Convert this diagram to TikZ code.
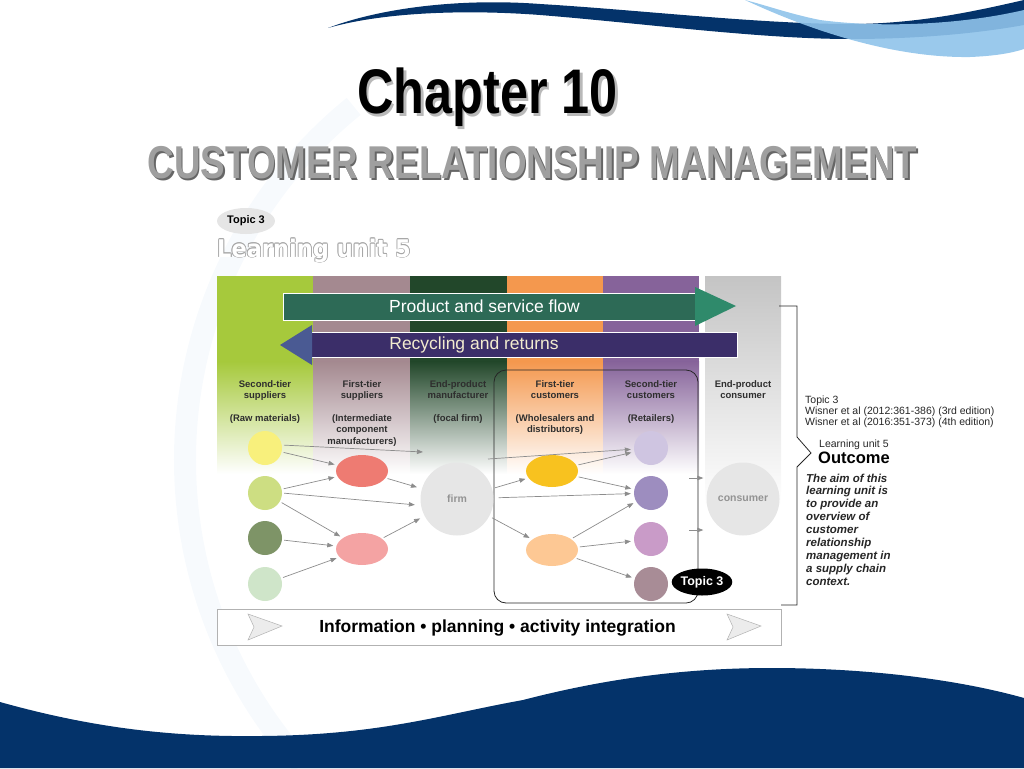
\documentclass[tikz,border=0pt]{standalone}
\usepackage{fontspec}
\setmainfont{Liberation Sans}
\newfontfamily\roundfont{DejaVu Sans}
\usetikzlibrary{arrows.meta,shapes.geometric,positioning}

\definecolor{navy}{HTML}{04336A}
\definecolor{skyblue}{HTML}{8FC3EA}
\definecolor{paleArc}{HTML}{F7FAFD}
\definecolor{limeTop}{HTML}{A6C93C}
\definecolor{mauveTop}{HTML}{A48990}
\definecolor{forestTop}{HTML}{22472A}
\definecolor{orangeTop}{HTML}{F4984E}
\definecolor{purpleTop}{HTML}{86639A}
\definecolor{greyTop}{HTML}{C4C4C4}
\definecolor{flowGreen}{HTML}{2D6A56}
\definecolor{flowHead}{HTML}{2F8A6B}
\definecolor{returnBlue}{HTML}{3B2E69}
\definecolor{returnHead}{HTML}{4A5A93}
\definecolor{returnText}{HTML}{F2EBCF}
\definecolor{linkGrey}{HTML}{8C8C8C}
\definecolor{hdrText}{HTML}{2E2E2E}
\definecolor{bubbleGrey}{HTML}{E6E6E6}
\definecolor{rawYellow}{HTML}{F8F07C}
\definecolor{rawLime}{HTML}{CDDE82}
\definecolor{rawOlive}{HTML}{7E9467}
\definecolor{rawMint}{HTML}{CFE5C9}
\definecolor{partRed}{HTML}{EE7B72}
\definecolor{partPink}{HTML}{F4A3A3}
\definecolor{saleGold}{HTML}{F8C21F}
\definecolor{salePeach}{HTML}{FDC894}
\definecolor{shopLilac}{HTML}{CFC5E1}
\definecolor{shopViolet}{HTML}{9D8DBF}
\definecolor{shopOrchid}{HTML}{C99BC8}
\definecolor{shopTaupe}{HTML}{A88C96}

\newcommand{\shadowtext}[3]{\makebox[0pt][l]{\hspace{#1}\raisebox{-#1}{\color{#2}#3}}#3}

\begin{document}
\begin{tikzpicture}[
x=1pt, y=-1pt,
>={Triangle[length=6pt,width=4.5pt]},
link/.style={->, draw=linkGrey, line width=0.7pt, shorten <=2pt, shorten >=3pt},
dot/.style={circle, minimum size=34pt, inner sep=0pt},
egg/.style={ellipse, minimum width=52pt, minimum height=32pt, inner sep=0pt},
bigdot/.style={circle, fill=bubbleGrey, minimum size=73pt, inner sep=0pt,
  text=gray!85, font=\fontsize{10.5}{12}\selectfont\bfseries},
hdr/.style={anchor=north, align=center, inner sep=0pt, text=hdrText,
  font=\fontsize{9.5}{11.5}\selectfont\bfseries},
lunit/.style={anchor=base west, inner sep=0pt, font=\roundfont\bfseries\fontsize{22.5}{27}\selectfont},
chev/.style={fill=gray!15, draw=gray!60, line width=0.5pt},
note/.style={anchor=base west, inner sep=0pt, text=black!85}
]
\useasboundingbox (0,0) rectangle (1024,768);

% slide background
\draw[paleArc, line width=22pt] (640,460) ++(231:455) arc[start angle=231, end angle=138, radius=455];
\fill[navy] (328,28) .. controls (380,8) and (460,-2) .. (540,4)
  .. controls (640,10) and (760,24) .. (850,24) .. controls (920,24) and (980,10) .. (1024,0)
  -- (1024,25) .. controls (980,33) and (920,39) .. (850,39)
  .. controls (760,39) and (640,23) .. (540,15) .. controls (460,9) and (380,13) .. (328,28) -- cycle;
\fill[skyblue, opacity=0.9] (745,0) .. controls (820,35) and (900,58) .. (970,57)
  .. controls (995,56) and (1012,53) .. (1024,49) -- (1024,10)
  .. controls (960,25) and (880,28) .. (820,20) .. controls (790,14) and (765,5) .. (745,0) -- cycle;
\fill[navy] (0,702) .. controls (100,730) and (180,737) .. (261,736)
  .. controls (380,735) and (440,715) .. (523,700) .. controls (600,680) and (680,668) .. (771,668)
  .. controls (870,668) and (960,680) .. (1024,698) -- (1024,768) -- (0,768) -- cycle;

% titles
\node[anchor=base, inner sep=0pt, font=\fontsize{63}{70}\selectfont\bfseries]
  (chapter) at (487.5,113) {\scalebox{0.8}[1]{\shadowtext{3pt}{gray!55}{Chapter 10}}};
\node[anchor=base, inner sep=0pt, text=gray!75, font=\fontsize{46}{52}\selectfont\bfseries]
  (crm) at (532.5,178) {\scalebox{0.8}[1]{\shadowtext{2pt}{black!60}{CUSTOMER RELATIONSHIP MANAGEMENT}}};

\node[ellipse, fill=gray!20, minimum width=58pt, minimum height=26pt, inner sep=0pt,
  font=\fontsize{11}{13}\selectfont\bfseries] (topicbadge) at (246,221) {Topic 3};
\foreach \a in {0,45,...,315}
  \node[lunit, text=gray!70, xshift={0.8*cos(\a)}, yshift={0.8*sin(\a)}] (luo\a) at (217,257)
    {\scalebox{1}[1.08]{Learning unit 5}};
\node[lunit, text=white] (lunitlabel) at (217,257) {\scalebox{1}[1.08]{Learning unit 5}};

% coloured columns
\foreach \xa/\xb/\c in {217/313/limeTop, 313/410/mauveTop, 410/507/forestTop,
    507/603/orangeTop, 603/699/purpleTop} {
  \fill[\c] (\xa,276) rectangle (\xb,362);
  \shade[top color=\c, bottom color=white] (\xa,361.5) rectangle (\xb,474);
}
\shade[top color=greyTop, bottom color=white] (705,276) rectangle (781,505);

% flow arrows
\fill[flowGreen, draw=white!85, line width=0.8pt] (283,293) rectangle (700,320);
\fill[flowHead] (695,287) -- (736,306) -- (695,326) -- cycle;
\node[text=white, font=\fontsize{17.5}{20}\selectfont] (flowlabel) at (484.5,306) {Product and service flow};
\fill[returnBlue, draw=white!85, line width=0.8pt] (310,332) rectangle (737,357);
\fill[returnHead] (312,325) -- (280,345) -- (312,365) -- cycle;
\node[text=returnText, font=\fontsize{17.5}{20}\selectfont] (returnlabel) at (474,345) {Recycling and returns};

% column headers
\node[hdr] (h1) at (265,380) {Second-tier\\suppliers};
\node[hdr] (h1b) at (265,414) {(Raw materials)};
\node[hdr] (h2) at (362,380) {First-tier\\suppliers};
\node[hdr] (h2b) at (362,414) {(Intermediate\\component\\manufacturers)};
\node[hdr] (h3) at (458,380) {End-product\\manufacturer};
\node[hdr] (h3b) at (458,414) {(focal firm)};
\node[hdr] (h4) at (555,380) {First-tier\\customers};
\node[hdr] (h4b) at (555,414) {(Wholesalers and\\distributors)};
\node[hdr] (h5) at (651,380) {Second-tier\\customers};
\node[hdr] (h5b) at (651,414) {(Retailers)};
\node[hdr] (h6) at (743,380) {End-product\\consumer};

% customer frame
\draw[black!85, line width=0.8pt, rounded corners=12pt] (494,370) rectangle (698,603);

% members
\node[dot, fill=rawYellow] (sup2a) at (265,448) {};
\node[dot, fill=rawLime] (sup2b) at (265,493) {};
\node[dot, fill=rawOlive] (sup2c) at (265,538) {};
\node[dot, fill=rawMint] (sup2d) at (265,584) {};
\node[egg, fill=partRed] (sup1a) at (362,471) {};
\node[egg, fill=partPink] (sup1b) at (362,549) {};
\node[bigdot] (firm) at (457,499) {firm};
\node[egg, fill=saleGold] (cus1a) at (552,471) {};
\node[egg, fill=salePeach] (cus1b) at (552,550) {};
\node[dot, fill=shopLilac] (cus2a) at (651,448) {};
\node[dot, fill=shopViolet] (cus2b) at (651,493) {};
\node[dot, fill=shopOrchid] (cus2c) at (651,539) {};
\node[dot, fill=shopTaupe] (cus2d) at (651,584) {};
\node[bigdot] (consumer) at (743,499) {consumer};

\coordinate (firmin) at (423,452);
\coordinate (firmout) at (488,459);
\coordinate (toconsA) at (689,478);
\coordinate (toconsB) at (689,530);

\draw[link, shorten >=0pt] (sup2a.10) -- (firmin);
\draw[link] (sup2a) -- (sup1a);
\draw[link] (sup2b) -- (sup1a);
\draw[link, shorten >=6pt] (sup2b.east) -- (firm.190);
\draw[link] (sup2b) -- (sup1b);
\draw[link] (sup2c) -- (sup1b);
\draw[link] (sup2d) -- (sup1b);
\draw[link, shorten >=5pt] (sup1a) -- (firm);
\draw[link, shorten >=5pt] (sup1b) -- (firm);
\draw[link, shorten <=3pt] (firm) -- (cus1a);
\draw[link, shorten <=5pt] (firm) -- (cus2b);
\draw[link, shorten <=3pt] (firm) -- (cus1b);
\draw[link, shorten <=0pt] (firmout) -- (cus2a);
\draw[link] (cus1a) -- (cus2a);
\draw[link] (cus1a) -- (cus2b);
\draw[link] (cus1b) -- (cus2b);
\draw[link] (cus1b) -- (cus2c);
\draw[link] (cus1b) -- (cus2d);
\draw[link, shorten <=0pt] (toconsA) -- (toconsA -| consumer.west);
\draw[link, shorten <=0pt] (toconsB) -- (toconsB -| consumer.west);

\node[ellipse, fill=black, text=white, minimum width=56pt, minimum height=27pt, inner sep=0pt,
  font=\fontsize{12.5}{14}\selectfont\bfseries] (topicmark) at (702,582) {Topic 3};

% integration bar
\node[draw=gray!60, line width=0.8pt, fill=white, minimum width=564pt, minimum height=36pt,
  inner sep=0pt, anchor=north west] (infobar) at (217,609) {};
\draw[chev] (248,614) -- (282,626) -- (248,640) -- (254,627) -- cycle;
\draw[chev] (727,614) -- (761,626) -- (727,640) -- (733,627) -- cycle;
\node[anchor=base, inner sep=0pt, font=\fontsize{17.5}{20}\selectfont\bfseries]
  (infotext) at (497.5,632) {Information • planning • activity integration};

% outcome bracket
\draw[black!85, line width=0.8pt] (779,306) -- (797,306) -- (797,437) -- (811,453)
  -- (797,467) -- (797,605) -- (781,605);
\node[note, anchor=north west, align=left, font=\fontsize{10.5}{11}\selectfont]
  (refs) at (805,396) {Topic 3\\Wisner et al (2012:361-386) (3rd edition)\\Wisner et al (2016:351-373) (4th edition)};
\node[note, font=\fontsize{10.5}{12}\selectfont] (unitnote) at (819,447) {Learning unit 5};
\node[note, text=black, font=\fontsize{16.5}{18}\selectfont\bfseries] (outcome) at (818,463) {Outcome};
\node[note, anchor=north west, align=left, text=black!85,
  font=\fontsize{11.5}{12.9}\selectfont\bfseries\itshape] (aim) at (806,473.5)
  {The aim of this\\learning unit is\\to provide an\\overview of\\customer\\relationship\\management in\\a supply chain\\context.};

\end{tikzpicture}
\end{document}
